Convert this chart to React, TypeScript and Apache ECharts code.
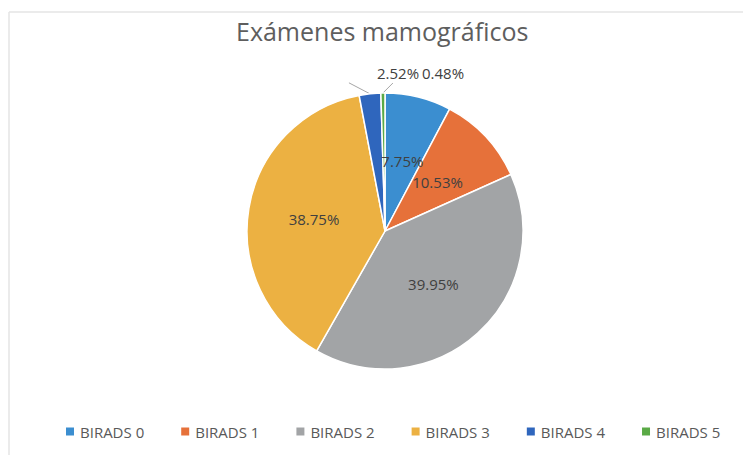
import React, { useEffect, useRef } from "react";
import * as echarts from "echarts";

const titleText = "Exámenes mamográficos";
const categories = ["BIRADS 0", "BIRADS 1", "BIRADS 2", "BIRADS 3", "BIRADS 4", "BIRADS 5"];
const percentages = [7.75, 10.53, 39.95, 38.75, 2.52, 0.48];
const colors = ["#3B8ED0", "#E6713A", "#A2A4A6", "#ECB142", "#2F66BD", "#5AAA46"];
const outsideLabelIdx = [4, 5];

const FONT = "'Open Sans', 'Noto Sans', sans-serif";

export default function App() {
  const ref = useRef<HTMLDivElement>(null);
  useEffect(() => {
    if (!ref.current) return;
    const chart = echarts.init(ref.current, undefined, { renderer: "svg" });
    const data = categories.map((name, i) => {
      const item: any = { name, value: percentages[i] };
      if (!outsideLabelIdx.includes(i)) {
        item.label = { position: "inside" };
        item.labelLine = { show: false };
      }
      return item;
    });
    chart.setOption({
      animation: false,
      color: colors,
      backgroundColor: "#ffffff",
      title: {
        text: titleText,
        left: 231,
        top: 13,
        textStyle: { fontFamily: FONT, fontSize: 25, fontWeight: "normal", color: "#5e5e5e" },
      },
      legend: {
        data: categories,
        left: 59,
        top: 419,
        icon: "rect",
        itemWidth: 10,
        itemHeight: 10,
        itemGap: 35,
        textStyle: { fontFamily: FONT, fontSize: 15, color: "#595959" },
      },
      graphic: [
        { type: "line", shape: { x1: 9, y1: 12, x2: 743, y2: 12 }, style: { stroke: "#e4e4e4", lineWidth: 1.5 }, silent: true },
        { type: "line", shape: { x1: 9, y1: 12, x2: 9, y2: 455 }, style: { stroke: "#e4e4e4", lineWidth: 1.5 }, silent: true },
      ],
      series: [
        {
          type: "pie",
          center: [385, 231],
          radius: 138,
          startAngle: 90,
          clockwise: true,
          itemStyle: { borderColor: "#ffffff", borderWidth: 1.5 },
          label: {
            show: true,
            formatter: (p: any) => Number(p.value).toFixed(2) + "%",
            fontFamily: FONT,
            fontSize: 15,
            color: "#404040",
            position: "outside",
          },
          labelLine: { show: true, lineStyle: { color: "#a6a6a6", width: 1 } },
          labelLayout: (params: any) => {
            const pts = params.labelLinePoints;
            if (params.dataIndex === 4 && pts) {
              const p0 = pts[0];
              const p1 = [p0[0] - 21, p0[1] - 11];
              return { x: 398, y: 73, align: "center", verticalAlign: "middle", labelLinePoints: [p0, p1, p1] };
            }
            if (params.dataIndex === 5 && pts) {
              const p0 = pts[0];
              const p1 = [p0[0] + 10, p0[1] - 10];
              return { x: 443, y: 73, align: "center", verticalAlign: "middle", labelLinePoints: [p0, p1, p1] };
            }
            return {};
          },
          data,
        },
      ],
    });
    return () => chart.dispose();
  }, []);
  return <div ref={ref} style={{ position: "absolute", left: 0, top: 0, width: 743, height: 455 }} />;
}
